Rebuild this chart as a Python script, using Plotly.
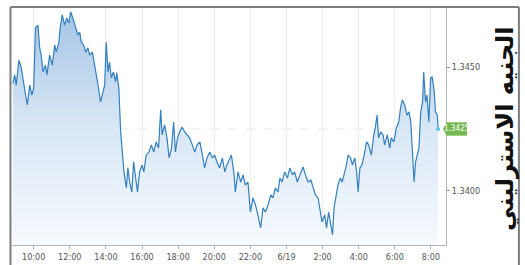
import pandas as pd
import plotly.graph_objects as go

# ---- data ----
start_time = "2025-06-18 08:50"
minutes = [1, 7, 12, 21, 29, 37, 42, 49, 57, 64, 70, 76, 84, 90, 95, 101, 109, 114, 123, 132,
           140, 145, 154, 158, 165, 173, 180, 187, 193, 200, 209, 217, 223, 228, 236, 243, 250, 256, 265, 273,
           278, 284, 292, 298, 306, 311, 317, 322, 328, 335, 342, 346, 353, 359, 365, 370, 378, 383, 389, 396,
           402, 409, 415, 422, 430, 436, 444, 453, 461, 469, 477, 485, 492, 497, 505, 513, 520, 528, 535, 541,
           548, 555, 563, 572, 580, 588, 597, 605, 613, 622, 629, 638, 646, 655, 664, 671, 679, 688, 697, 705,
           712, 716, 727, 736, 740, 749, 758, 766, 773, 782, 790, 799, 807, 815, 824, 832, 840, 849, 858, 865,
           873, 882, 888, 895, 904, 913, 921, 930, 937, 946, 954, 965, 973, 982, 991, 998, 1006, 1015, 1023, 1028,
           1037, 1043, 1050, 1057, 1063, 1068, 1074, 1081, 1089, 1095, 1101, 1107, 1115, 1123, 1129, 1137, 1143, 1148, 1154, 1161,
           1168, 1176, 1183, 1192, 1200, 1205, 1211, 1216, 1223, 1231, 1236, 1245, 1253, 1258, 1267, 1275, 1283, 1289, 1295, 1303,
           1310, 1317, 1323, 1328, 1334, 1339, 1345, 1350, 1356, 1362, 1366, 1372, 1377, 1383, 1389, 1394, 1401, 1405, 1411, 1414]
prices = [1.34434, 1.34468, 1.34427, 1.34528, 1.34496, 1.34427, 1.34395, 1.34347, 1.34427, 1.34387,
          1.34415, 1.34657, 1.34669, 1.34577, 1.34548, 1.34480, 1.34508, 1.34468, 1.34548, 1.34508,
          1.34589, 1.34560, 1.34601, 1.34657, 1.34710, 1.34669, 1.34698, 1.34677, 1.34722, 1.34698,
          1.34657, 1.34629, 1.34641, 1.34601, 1.34589, 1.34560, 1.34577, 1.34548, 1.34560, 1.34508,
          1.34480, 1.34427, 1.34359, 1.34387, 1.34427, 1.34601, 1.34480, 1.34520, 1.34456, 1.34480,
          1.34440, 1.34476, 1.34415, 1.34238, 1.34157, 1.34077, 1.34012, 1.34093, 1.34036, 1.33996,
          1.34117, 1.34052, 1.33996, 1.34077, 1.34105, 1.34077, 1.34145, 1.34157, 1.34186, 1.34157,
          1.34198, 1.34173, 1.34327, 1.34226, 1.34266, 1.34214, 1.34133, 1.34173, 1.34278, 1.34157,
          1.34214, 1.34238, 1.34258, 1.34238, 1.34226, 1.34214, 1.34186, 1.34157, 1.34186, 1.34198,
          1.34157, 1.34093, 1.34133, 1.34157, 1.34133, 1.34145, 1.34117, 1.34093, 1.34133, 1.34077,
          1.34105, 1.34117, 1.34145, 1.34065, 1.33996, 1.34077, 1.34036, 1.34065, 1.34024, 1.34036,
          1.33915, 1.33972, 1.33944, 1.33903, 1.33851, 1.33932, 1.33915, 1.33944, 1.33984, 1.33972,
          1.34012, 1.33996, 1.34052, 1.34036, 1.34077, 1.34052, 1.34093, 1.34065, 1.34077, 1.34036,
          1.34065, 1.34097, 1.34065, 1.34036, 1.34044, 1.34012, 1.33984, 1.33972, 1.33915, 1.33875,
          1.33903, 1.33851, 1.33915, 1.33863, 1.33823, 1.33932, 1.33984, 1.34024, 1.34052, 1.34036,
          1.34065, 1.34093, 1.34145, 1.34133, 1.34105, 1.34133, 1.34077, 1.33996, 1.34093, 1.34105,
          1.34145, 1.34198, 1.34186, 1.34145, 1.34226, 1.34254, 1.34306, 1.34214, 1.34238, 1.34226,
          1.34186, 1.34226, 1.34173, 1.34214, 1.34198, 1.34254, 1.34278, 1.34335, 1.34367, 1.34347,
          1.34306, 1.34319, 1.34278, 1.34157, 1.34036, 1.34117, 1.34145, 1.34173, 1.34319, 1.34359,
          1.34480, 1.34359, 1.34387, 1.34278, 1.34456, 1.34460, 1.34399, 1.34319, 1.34306, 1.34250]

x_tick_times = ["2025-06-18 10:00", "2025-06-18 12:00", "2025-06-18 14:00", "2025-06-18 16:00",
                "2025-06-18 18:00", "2025-06-18 20:00", "2025-06-18 22:00", "2025-06-19 00:00",
                "2025-06-19 02:00", "2025-06-19 04:00", "2025-06-19 06:00", "2025-06-19 08:00"]
x_tick_labels = ["10:00", "12:00", "14:00", "16:00", "18:00", "20:00", "22:00", "6/19",
                 "2:00", "4:00", "6:00", "8:00"]
y_tick_vals = [1.3400, 1.3450]
y_tick_labels = ["1.3400", "1.3450"]
x_range = ["2025-06-18 08:48", "2025-06-19 08:50"]
y_range = [1.33782, 1.34738]
title_text = "الجنيه الاسترليني"
day_break = "2025-06-19 00:00"

times = pd.to_datetime(start_time) + pd.to_timedelta(minutes, unit="m")
last_price = prices[-1]

fig = go.Figure()
fig.add_trace(go.Scatter(
    x=times, y=prices, mode="lines",
    line=dict(color="#347fbd", width=1.2),
    fill="tozeroy",
    fillgradient=dict(type="vertical", start=y_range[0], stop=y_range[1],
                      colorscale=[[0, "#f6f9fd"], [0.5, "#d8e7f5"], [1, "#a3c4e5"]]),
    hoverinfo="skip", showlegend=False))
fig.add_trace(go.Scatter(
    x=[times[-1]], y=[last_price], mode="markers",
    marker=dict(color="#5cc3ee", size=4), showlegend=False, hoverinfo="skip"))

font_axis = "Liberation Sans Narrow, DejaVu Sans Condensed, Arial Narrow, sans-serif"

fig.update_layout(
    width=525, height=265,
    margin=dict(l=12, r=79, t=8, b=20, autoexpand=False),
    paper_bgcolor="white", plot_bgcolor="white",
    xaxis=dict(range=x_range, tickvals=x_tick_times, ticktext=x_tick_labels,
               showgrid=True, gridcolor="#efefef", gridwidth=1,
               showline=True, linecolor="#b5b5b5", linewidth=1,
               ticks="outside", ticklen=3, tickcolor="#b5b5b5",
               tickfont=dict(family=font_axis, size=9, color="#555"),
               zeroline=False, fixedrange=True),
    yaxis=dict(range=y_range, side="right", tickvals=y_tick_vals, ticktext=y_tick_labels,
               showgrid=False, zeroline=False,
               showline=True, linecolor="#b5b5b5", linewidth=1,
               ticks="outside", ticklen=3, tickcolor="#999",
               tickfont=dict(family=font_axis, size=9, color="#555")),
    shapes=[
        dict(type="line", xref="x", yref="paper", x0=day_break, x1=day_break, y0=0, y1=1,
             line=dict(color="#dedede", width=1), layer="below"),
        dict(type="line", xref="paper", yref="y", x0=0, x1=1, y0=last_price, y1=last_price,
             line=dict(color="#e6e6e6", width=1, dash="dash"), layer="below"),
        dict(type="line", xref="paper", yref="paper", x0=-0.0035, x1=-0.0035, y0=-0.2, y1=1.0042,
             line=dict(color="#7d7d7d", width=2)),
        dict(type="line", xref="paper", yref="paper", x0=-0.0035, x1=1.168, y0=1.0042, y1=1.0042,
             line=dict(color="#7d7d7d", width=2)),
        dict(type="line", xref="paper", yref="paper", x0=1.168, x1=1.168, y0=-0.2, y1=1.0042,
             line=dict(color="#7d7d7d", width=2)),
        dict(type="rect", xref="paper", yref="y", x0=1.0, x1=1.0484,
             y0=last_price - 0.00027, y1=last_price + 0.00027,
             fillcolor="#74b94f", line=dict(width=0)),
        dict(type="path", xref="paper", yref="y",
             path=f"M 0.993 {last_price} L 1.0005 {last_price + 0.00022} L 1.0005 {last_price - 0.00022} Z",
             fillcolor="#74b94f", line=dict(width=0)),
    ],
    annotations=[
        dict(xref="paper", yref="y", x=1.0242, y=last_price, text=f"{last_price:.4f}",
             showarrow=False, font=dict(family=font_axis, size=8, color="white"),
             xanchor="center", yanchor="middle"),
        dict(xref="paper", yref="paper", x=1.136, y=0.49, text=title_text, textangle=-90,
             showarrow=False, font=dict(family="DejaVu Sans", size=24, color="#111", weight="bold"),
             xanchor="center", yanchor="middle"),
    ],
)

fig.write_html("out.html", config={"displayModeBar": False},
               post_script="document.body.style.margin='0';")
